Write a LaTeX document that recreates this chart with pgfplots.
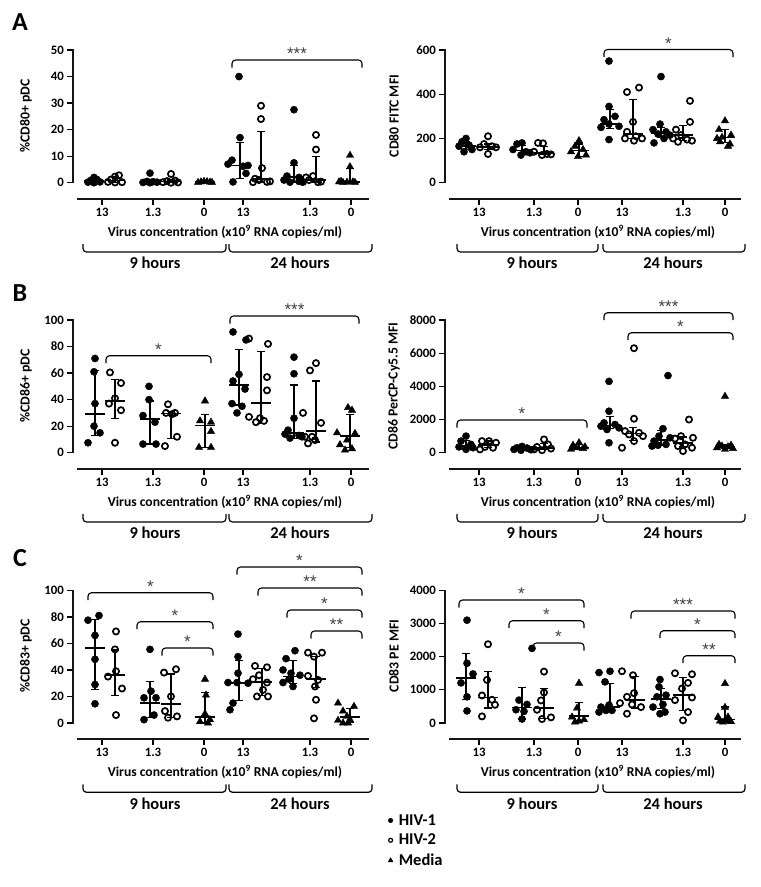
\documentclass[border=0pt]{standalone}
\usepackage{fontspec}
\setmainfont{Carlito}
\newfontfamily\starfont{Liberation Sans}
\usepackage{pgfplots}
\pgfplotsset{compat=1.18}
\definecolor{axc}{RGB}{22,22,22}
\pgfplotsset{
 prism/.style={
  scale only axis, width=292pt, height=132.7pt,
  xmin=0, xmax=292, ymin=0,
  axis x line=bottom, axis y line=left,
  axis line style={-, line width=1.6pt, axc},
  axis x line shift=16.3pt, axis y line shift=4.2pt,
  tick align=outside, major tick length=5.5pt,
  every tick/.style={black, line width=1.3pt},
  clip=false, anchor=south west,
  ticklabel style={font=\fontsize{12.8}{14}\selectfont\bfseries},
  /pgf/number format/assume math mode=true,
  /pgf/number format/1000 sep={},
  scaled y ticks=false,
  xticklabels={13,1.3,0,13,1.3,0},
 },
 leftx/.style={xtick={25,76,127,166,233,274}},
 rightx/.style={xtick={30,85,129,173,234,276}},
 h1/.style={only marks, mark=*, mark size=3.6pt, black, mark options={fill=black}},
 h2/.style={only marks, mark=o, mark size=3.1pt, black, mark options={line width=1.7pt, fill=white}},
 md/.style={only marks, mark=triangle*, mark size=4.2pt, black},
 med/.style={only marks, mark=-, mark size=10pt, black, mark options={line width=1.6pt}},
 eb/.style={black, line width=1.2pt, mark=-, mark size=4pt, mark options={line width=1.2pt}},
}
\newcommand{\grp}[4]{\addplot[eb] coordinates {(#1,#2) (#1,#4)};\addplot[med] coordinates {(#1,#3)};}
\newcommand{\sig}[4]{%
 \draw[line width=1.1pt, rounded corners=3.5pt] (#1pt,{-(#3+7.5)*1pt}) -- (#1pt,-#3pt) -- (#2pt,-#3pt) -- (#2pt,{-(#3+7.5)*1pt});
 \node[anchor=base, inner sep=0pt, text=black!75, font=\starfont\fontsize{17}{17}\selectfont] at ({(#1+#2)/2*1pt},{-(#3-0.5)*1pt}) {#4};}
\newcommand{\tb}[3]{%
 \draw[line width=1.2pt, rounded corners=3.5pt] (#1pt,{-(#3+45)*1pt}) -- (#1pt,{-(#3+53)*1pt}) -- (#2pt,{-(#3+53)*1pt}) -- (#2pt,{-(#3+45)*1pt});}
\newcommand{\xtexts}[4]{%
 \node[font=\fontsize{13.6}{15}\selectfont\bfseries] at (#1pt,{-(#4+33)*1pt}) {Virus concentration (x10\textsuperscript{9} RNA copies/ml)};
 \node[font=\fontsize{16.5}{18}\selectfont\bfseries] at (#2pt,{-(#4+64)*1pt}) {9 hours};
 \node[font=\fontsize{16.5}{18}\selectfont\bfseries] at (#3pt,{-(#4+64)*1pt}) {24 hours};}
\newcommand{\ylab}[3]{\node[rotate=90, font=\fontsize{13.8}{15}\selectfont\bfseries] at (#1pt,-#2pt) {#3};}
% axis lines: yline-x, xline-start, xline-y, y0, ytop
\newcommand{\PanelAxes}[5]{%
 \draw[draw=axc, line width=1.8pt] (#1pt,{-(#4+0.65)*1pt}) -- (#1pt,{-(#5-0.65)*1pt});
 \draw[draw=axc, line width=1.8pt] (#2pt,-#3pt) -- ({(#2+292)*1pt},-#3pt);}
\begin{document}
\begin{tikzpicture}
\useasboundingbox (0,0) rectangle (761pt,-887pt);
% ---------------- A left
\begin{axis}[prism, leftx, at={(77pt,-182.7pt)}, ymax=50, ytick={0,10,...,50}]
\addplot[h1] coordinates {(11,0.2) (14,0.9) (17,2.0) (20,1.2) (23,0.3) (17,0.0)};
\addplot[h2] coordinates {(31,0.3) (34,1.2) (38,2.3) (42,2.8) (45,0.2) (38,0.1)};
\addplot[h1] coordinates {(66,0.1) (70,0.5) (73,3.6) (76,0.4) (80,0.2) (73,0.0)};
\addplot[h2] coordinates {(86,0.2) (90,0.6) (94,3.3) (98,0.8) (101,0.1) (94,0.0)};
\addplot[md] coordinates {(121,0.1) (124,0.3) (127,0.5) (130,0.4) (133,0.2) (135,0.1)};
\addplot[h1] coordinates {(162,40) (163,17) (155,8.5) (151,7) (171,6.5) (169,3.5) (156,0.3) (166,6.2)};
\addplot[h2] coordinates {(184,29) (184,24) (185,5.5) (178,1.5) (182,1) (176,0.2) (190,0.3) (193,0.5)};
\addplot[h1] coordinates {(217,27.5) (217,7.5) (210,2.5) (222,2) (207,1) (222,0.5) (213,0.2) (225,0.3)};
\addplot[h2] coordinates {(239,18) (239,12.5) (236,2.5) (229,2) (232,1) (226,0.3) (244,0.4) (241,0.2)};
\addplot[md] coordinates {(273,10.3) (273,6) (262,0.3) (266,0.1) (270,0.2) (276,0.3) (278,0.1) (264,0.5)};
\grp{17}{0.2}{0.6}{1.3}\grp{38}{0.2}{0.8}{2.3}\grp{73}{0.1}{0.3}{1}\grp{94}{0.1}{0.4}{1}\grp{128}{0.1}{0.2}{0.4}
\grp{163}{1.5}{6.5}{15}\grp{184}{0.3}{1.5}{19.2}\grp{217}{0.3}{2.2}{6.5}\grp{239}{0.3}{1}{10}\grp{273}{0.1}{0.3}{5.5}
\end{axis}
% ---------------- A right
\begin{axis}[prism, rightx, at={(449pt,-182.7pt)}, ymax=600, ytick={0,200,400,600}]
\addplot[h1] coordinates {(10,165) (13,185) (17,200) (20,170) (23,150) (15,140)};
\addplot[h2] coordinates {(31,160) (35,175) (39,210) (43,165) (47,160) (39,130)};
\addplot[h1] coordinates {(64,150) (68,175) (73,180) (77,140) (81,135) (72,125)};
\addplot[h2] coordinates {(85,140) (89,180) (94,178) (98,130) (102,128) (93,125)};
\addplot[md] coordinates {(122,140) (126,165) (130,190) (134,150) (137,125) (129,118)};
\addplot[h1] coordinates {(160,550) (160,345) (166,300) (155,285) (160,265) (170,255) (152,250) (160,195)};
\addplot[h2] coordinates {(178,410) (190,430) (184,275) (178,230) (187,210) (176,200) (193,200) (185,190)};
\addplot[h1] coordinates {(212,480) (211,265) (204,240) (217,230) (209,220) (221,215) (215,200) (205,180)};
\addplot[h2] coordinates {(241,370) (241,275) (227,240) (232,215) (224,200) (238,195) (243,190) (229,185)};
\addplot[md] coordinates {(276,280) (270,240) (282,215) (273,205) (271,185) (281,175) (279,165) (268,200)};
\grp{17}{150}{165}{185}\grp{39}{150}{162}{175}\grp{73}{130}{145}{170}\grp{95}{127}{135}{165}\grp{130}{120}{145}{175}
\grp{161}{245}{265}{330}\grp{184}{200}{220}{375}\grp{212}{205}{225}{250}\grp{234}{192}{215}{260}\grp{276}{180}{205}{240}
\end{axis}
% ---------------- B left
\begin{axis}[prism, leftx, at={(77pt,-452.7pt)}, ymax=100, ytick={0,20,...,100}]
\addplot[h1] coordinates {(18,71) (17,61) (18,37) (17,20) (23,15) (11,7.5)};
\addplot[h2] coordinates {(33,60.5) (44,52.5) (38,41) (32,37) (44,32) (38,7.5)};
\addplot[h1] coordinates {(72,50) (72,40) (66,28) (78,23) (66,6.5) (79,6.5)};
\addplot[h2] coordinates {(91,36.5) (98,30) (89,30) (95,29) (100,12) (88,5)};
\addplot[md] coordinates {(128,39) (123,24) (134,23) (134,16) (122,4) (134,4)};
\addplot[h1] coordinates {(156,91) (169,85) (162,59) (156,54) (168,48) (155,37) (165,35) (160,30)};
\addplot[h2] coordinates {(172,86) (191,82) (190,57) (190,47) (172,27) (179,23) (187,24) (183,26)};
\addplot[h1] coordinates {(217,72) (217,59.5) (217,26) (211,17) (208,14) (222,13) (213,11) (225,12)};
\addplot[h2] coordinates {(239,67.5) (233,62) (226,30) (244,22.5) (235,12) (228,12) (231,7) (238,9.5)};
\addplot[md] coordinates {(271,34) (275,32) (260,15) (278,14.5) (270,9.5) (263,6) (268,2) (275,3)};
\grp{18}{13}{29}{62}\grp{38}{26}{39}{55}\grp{73}{6.5}{25.5}{39}\grp{94}{11}{29.5}{31}\grp{128}{4}{20.5}{29}
\grp{162}{36}{51}{77.5}\grp{184}{22}{37.5}{76}\grp{217}{11}{15}{51}\grp{239}{8}{16.5}{54}\grp{273}{4}{12.5}{28.5}
\end{axis}
% ---------------- B right
\begin{axis}[prism, rightx, at={(449pt,-452.7pt)}, ymax=8000, ytick={0,2000,...,8000}]
\addplot[h1] coordinates {(17,1000) (12,700) (22,500) (10,350) (24,300) (17,200)};
\addplot[h2] coordinates {(33,700) (40,700) (47,600) (36,350) (44,300) (31,200)};
\addplot[h1] coordinates {(73,380) (68,300) (78,280) (65,200) (82,180) (72,150)};
\addplot[h2] coordinates {(95,800) (99,500) (88,350) (102,250) (85,200) (93,150)};
\addplot[md] coordinates {(130,600) (124,450) (136,350) (127,300) (134,250) (122,200)};
\addplot[h1] coordinates {(160,4300) (160,2500) (155,1800) (166,1700) (152,1600) (170,1500) (158,1400) (160,600)};
\addplot[h2] coordinates {(185,6300) (185,2050) (176,1300) (190,1200) (180,1100) (194,1000) (185,700) (173,300)};
\addplot[h1] coordinates {(219,4650) (214,1450) (210,1000) (221,900) (205,700) (217,500) (209,450) (203,400)};
\addplot[h2] coordinates {(240,2000) (232,1000) (244,900) (226,850) (236,500) (229,400) (243,300) (234,100)};
\addplot[md] coordinates {(276,3400) (270,500) (282,450) (273,400) (279,350) (268,300) (284,250) (276,200)};
\grp{17}{250}{400}{750}\grp{39}{300}{470}{700}\grp{73}{170}{250}{320}\grp{95}{180}{300}{550}\grp{130}{230}{320}{480}
\grp{161}{1450}{1650}{2200}\grp{184}{750}{1150}{1500}\grp{212}{450}{750}{1350}\grp{234}{350}{600}{950}\grp{276}{250}{380}{470}
\end{axis}
% ---------------- C left
\begin{axis}[prism, leftx, at={(77pt,-723pt)}, ymax=100, ytick={0,20,...,100}]
\addplot[h1] coordinates {(11,77.5) (22,81) (18,66) (18,48) (18,29) (18,14.5)};
\addplot[h2] coordinates {(39,69) (38,55.5) (39,39) (31,35) (45,26) (39,6)};
\addplot[h1] coordinates {(73,55.5) (74,24) (67,19) (79,19) (77,6) (67,2.5)};
\addplot[h2] coordinates {(99,40.5) (87,38) (94,20) (88,9) (100,5) (91,4)};
\addplot[md] coordinates {(128,33) (129,21) (128,7) (133,2.5) (123,1) (131,0)};
\addplot[h1] coordinates {(161,67) (161,50) (161,37.5) (151,30.5) (160,30.5) (171,30) (156,15) (153,10)};
\addplot[h2] coordinates {(178,43) (190,42) (182,36) (176,33) (190,30.5) (186,25) (180,20) (191,20)};
\addplot[h1] coordinates {(218,54.5) (209,48.5) (206,40) (214,37.5) (223,36) (206,30.5) (216,27.5) (212,33)};
\addplot[h2] coordinates {(231,53) (245,53) (237,50) (231,35.5) (241,32.5) (238,27.5) (239,17.5) (237,3.5)};
\addplot[md] coordinates {(261,15) (277,12.5) (266,9) (270,5) (261,2) (273,2.5) (266,0) (271,0)};
\grp{18}{25}{56.5}{78}\grp{38}{21}{36}{55}\grp{73}{4}{15}{31}\grp{94}{4}{14.5}{37}\grp{128}{0}{4.5}{23}
\grp{162}{17}{30}{47}\grp{185}{21}{31}{41}\grp{216}{30}{35}{47}\grp{239}{27}{33}{50}\grp{273}{0.5}{4.5}{11}
\end{axis}
% ---------------- C right
\begin{axis}[prism, rightx, at={(449pt,-723pt)}, ymax=4000, ytick={0,1000,...,4000},
  legend image code/.code={\draw[#1] plot coordinates {(0pt,0pt)}; \path (-2pt,0pt) (6pt,0pt);},
  legend cell align=left,
  legend style={draw=none, fill=none, at={(-0.209,-0.672)}, anchor=north west, inner sep=0pt, row sep=3.5pt,
    font=\fontsize{16.5}{18}\selectfont\bfseries}]
\addlegendimage{only marks, mark=*, mark size=2.3pt, black}
\addlegendimage{only marks, mark=o, mark size=2pt, black, mark options={line width=1.2pt}}
\addlegendimage{only marks, mark=triangle*, mark size=2.8pt, black}
\legend{HIV-1,HIV-2,Media}
\addplot[h1] coordinates {(18,3100) (18,1800) (24,1480) (12,1210) (18,790) (18,365)};
\addplot[h2] coordinates {(39,2375) (38,1300) (33,830) (43,700) (46,550) (33,200)};
\addplot[h1] coordinates {(83,2250) (70,690) (78,560) (67,400) (75,350) (73,120)};
\addplot[h2] coordinates {(95,1550) (95,920) (88,400) (92,680) (102,170) (93,120)};
\addplot[md] coordinates {(130,1200) (128,450) (123,180) (135,100) (130,60) (126,30)};
\addplot[h1] coordinates {(161,1560) (150,1520) (156,1240) (160,540) (152,480) (157,380) (163,380) (150,330)};
\addplot[h2] coordinates {(173,1560) (184,1440) (185,900) (178,790) (171,600) (183,560) (178,280) (192,480)};
\addplot[h1] coordinates {(211,1310) (210,1090) (208,790) (217,840) (204,480) (214,560) (211,280) (216,330)};
\addplot[h2] coordinates {(226,1500) (243,1470) (239,1210) (233,1040) (243,770) (226,690) (239,330) (234,80)};
\addplot[md] coordinates {(276,1190) (269,180) (279,180) (278,100) (271,60) (274,30) (282,40) (276,470)};
\grp{17}{700}{1350}{2100}\grp{39}{450}{770}{1550}\grp{73}{120}{470}{1080}\grp{95}{130}{450}{1050}\grp{130}{40}{220}{630}
\grp{161}{360}{480}{1190}\grp{186}{450}{690}{1400}\grp{212}{430}{730}{1050}\grp{234}{380}{840}{1380}\grp{276}{30}{100}{480}
\end{axis}
% ---------------- axis lines
\PanelAxes{72.8}{77}{199}{182.7}{50}\PanelAxes{444.8}{449}{199}{182.7}{50}
\PanelAxes{72.8}{77}{469}{452.7}{320}\PanelAxes{444.8}{449}{469}{452.7}{320}
\PanelAxes{72.8}{77}{739.3}{723}{590.3}\PanelAxes{444.8}{449}{739.3}{723}{590.3}
% ---------------- annotations
\node[font=\fontsize{26}{28}\selectfont\bfseries] at (20pt,-22pt) {A};
\node[font=\fontsize{26}{28}\selectfont\bfseries] at (20pt,-293pt) {B};
\node[font=\fontsize{26}{28}\selectfont\bfseries] at (20pt,-558pt) {C};
\ylab{26}{116}{\%CD80+ pDC}
\ylab{394}{116}{CD80 FITC MFI}
\ylab{26}{386}{\%CD86+ pDC}
\ylab{394}{386}{CD86 PerCP-Cy5.5 MFI}
\ylab{26}{656}{\%CD83+ pDC}
\ylab{394}{656}{CD83 PE MFI}
\xtexts{225}{155}{300}{199}\xtexts{598}{532}{673}{199}
\xtexts{225}{155}{300}{469}\xtexts{598}{532}{673}{469}
\xtexts{225}{155}{300}{739.3}\xtexts{598}{532}{673}{739.3}
\tb{83}{226}{199}\tb{229}{372}{199}\tb{457}{598}{199}\tb{603}{745}{199}
\tb{83}{226}{469}\tb{229}{372}{469}\tb{457}{598}{469}\tb{603}{745}{469}
\tb{83}{226}{739.3}\tb{229}{372}{739.3}\tb{457}{598}{739.3}\tb{603}{745}{739.3}
\sig{232}{362}{60}{***}
\sig{604}{733}{49.5}{*}
\sig{106}{211}{355.7}{*}\sig{230}{359}{316}{***}
\sig{457}{587}{420}{*}\sig{604}{733}{312.7}{***}\sig{628}{733}{332.7}{*}
\sig{88}{213}{592.7}{*}\sig{137}{213}{621.7}{*}\sig{162}{213}{648}{*}
\sig{237}{362}{567}{*}\sig{258}{362}{588}{**}\sig{287}{362}{610}{*}\sig{311}{362}{631}{**}
\sig{459}{584}{600}{*}\sig{509}{584}{620.7}{*}\sig{533}{584}{643}{*}
\sig{631}{735}{611}{***}\sig{660}{735}{630.7}{*}\sig{683}{735}{655.7}{**}
\end{tikzpicture}
\end{document}
